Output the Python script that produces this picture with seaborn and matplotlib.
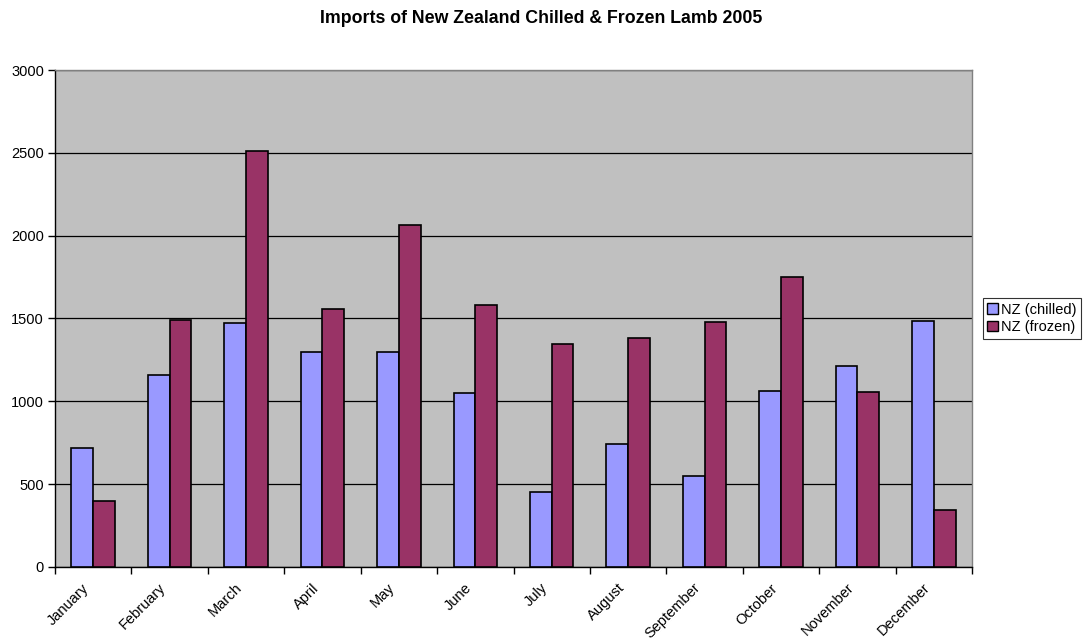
import numpy as np
import pandas as pd
import matplotlib
matplotlib.use("Agg")
import matplotlib.pyplot as plt
import matplotlib.transforms as mtransforms
import seaborn as sns

months = ["January", "February", "March", "April", "May", "June", "July",
          "August", "September", "October", "November", "December"]
chilled = [716, 1160, 1470, 1297, 1295, 1048, 450, 744, 547, 1064, 1215, 1482]
frozen = [396, 1490, 2514, 1560, 2065, 1579, 1345, 1385, 1478, 1751, 1058, 344]
series = ["NZ (chilled)", "NZ (frozen)"]
yticks = [0, 500, 1000, 1500, 2000, 2500, 3000]

df = pd.DataFrame({
    "month": months * 2,
    "tonnes": chilled + frozen,
    "series": [series[0]] * len(months) + [series[1]] * len(months),
})

sns.set_theme(style="white")
plt.rcParams["font.family"] = ["Liberation Sans", "DejaVu Sans"]
plt.rcParams["text.color"] = "black"

fig = plt.figure(figsize=(10.83, 6.44), dpi=100)
ax = fig.add_axes([0.0508, 0.1196, 0.8467, 0.7717])
ax.set_facecolor("#C0C0C0")

sns.barplot(data=df, x="month", y="tonnes", hue="series", order=months,
            hue_order=series, palette=["#9999FF", "#993366"], width=0.57,
            edgecolor="black", linewidth=1.2, saturation=1, ax=ax, zorder=3)

ax.set_ylim(0, 3000)
ax.set_xlim(-0.5, len(months) - 0.5)
ax.set_yticks(yticks)
ax.set_yticklabels([str(v) for v in yticks], fontsize=10.5, color="black")
ax.yaxis.grid(True, color="black", linewidth=0.9, zorder=1)
ax.set_axisbelow(True)
ax.set_xlabel("")
ax.set_ylabel("")

# month labels near centres, tick marks at category boundaries
ax.set_xticks(range(len(months)))
ax.set_xticklabels(months, rotation=45, ha="right", rotation_mode="anchor",
                   fontsize=10.5, color="black")
ax.tick_params(axis="x", which="major", length=0, pad=10)
shift = mtransforms.ScaledTranslation(-11 / 100, 0, fig.dpi_scale_trans)
for lbl in ax.get_xticklabels():
    lbl.set_transform(lbl.get_transform() + shift)
ax.set_xticks(np.arange(-0.5, len(months), 1.0), minor=True)
ax.tick_params(axis="x", which="minor", length=5, width=1, color="black",
               direction="out", bottom=True)
ax.tick_params(axis="y", length=5, width=1, color="black", direction="out",
               left=True, pad=3)

for side in ["left", "bottom"]:
    ax.spines[side].set_color("black")
    ax.spines[side].set_linewidth(1)
for side in ["top", "right"]:
    ax.spines[side].set_color("#808080")
    ax.spines[side].set_linewidth(1)

leg = ax.legend(loc="center left", bbox_to_anchor=(1.012, 0.5), frameon=True,
                fontsize=10.5, handlelength=0.7, handleheight=0.7,
                handletextpad=0.25, borderpad=0.3, labelspacing=0.25,
                fancybox=False, borderaxespad=0)
leg.get_frame().set_edgecolor("black")
leg.get_frame().set_linewidth(0.8)
for h in leg.legend_handles:
    h.set_edgecolor("black")
    h.set_linewidth(1)

fig.text(0.5, 0.971, "Imports of New Zealand Chilled & Frozen Lamb 2005",
         ha="center", va="center", fontsize=12.8, fontweight="bold",
         color="black")

fig.savefig("out.png", dpi=100)
